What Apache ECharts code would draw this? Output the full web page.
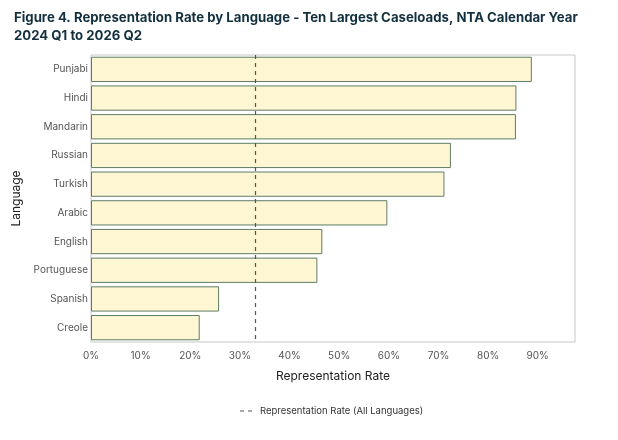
<!DOCTYPE html>
<html><head><meta charset="utf-8">
<script src="https://cdn.jsdelivr.net/npm/echarts@6/dist/echarts.min.js"></script>
<style>html,body{margin:0;padding:0;background:#fff}#c{width:618px;height:440px}</style>
</head><body><div id="c"></div>
<script>
const categories = ["Punjabi","Hindi","Mandarin","Russian","Turkish","Arabic","English","Portuguese","Spanish","Creole"];
const rates = [88.8, 85.7, 85.6, 72.5, 71.2, 59.7, 46.6, 45.6, 25.8, 21.9];
const overallRate = 33.0;
const xTicks = [0,10,20,30,40,50,60,70,80,90];
const chart = echarts.init(document.getElementById('c'));
const FONT = 'Inter, "Noto Sans", sans-serif';
chart.setOption({
  animation: false,
  textStyle: {fontFamily: FONT},
  title: {
    text: 'Figure 4. Representation Rate by Language - Ten Largest Caseloads, NTA Calendar Year\n2024 Q1 to 2026 Q2',
    left: 9, top: 4,
    textStyle: {fontSize: 13.2, fontWeight: 'bold', color: '#13303f', lineHeight: 18, fontFamily: FONT}
  },
  grid: {left: 91, right: 43, top: 55, bottom: 98, show: true, borderColor: '#c8c8c8', borderWidth: 1},
  legend: {
    data: [{name: 'Representation Rate (All Languages)', icon: 'path://M0,5L4,5L4,6L0,6ZM8,5L12,5L12,6L8,6Z'}],
    bottom: 19, left: 235,
    itemWidth: 12, itemHeight: 6,
    textStyle: {fontSize: 9.5, color: '#333', fontFamily: FONT, padding: [0, 0, 0, 3]},
    itemStyle: {color: '#555'}
  },
  xAxis: {
    type: 'value', min: 0, max: 97.5, interval: 10,
    axisLine: {show: false}, axisTick: {show: false}, splitLine: {show: false},
    axisLabel: {formatter: v => xTicks.includes(v) ? v + '%' : '', color: '#555', fontSize: 10, margin: 9, showMaxLabel: false},
    name: 'Representation Rate', nameLocation: 'middle', nameGap: 28,
    nameTextStyle: {fontSize: 12, color: '#222'}
  },
  yAxis: {
    type: 'category', data: categories, inverse: true,
    axisLine: {show: false}, axisTick: {show: false},
    axisLabel: {color: '#555', fontSize: 10, margin: 3},
    name: 'Language', nameLocation: 'middle', nameGap: 63, nameRotate: 90,
    nameTextStyle: {fontSize: 12, color: '#222'}
  },
  series: [
    {
      type: 'bar', name: 'Rate', data: rates, barCategoryGap: '12%',
      itemStyle: {color: '#fff6d3', borderColor: '#5e7d66', borderWidth: 1},
      markLine: {
        silent: true, symbol: 'none', label: {show: false},
        lineStyle: {type: [4, 4], color: '#555', width: 1.2},
        data: [{xAxis: overallRate}]
      }
    },
    {
      type: 'line', name: 'Representation Rate (All Languages)', data: [], symbol: 'none',
      lineStyle: {type: 'dashed', color: '#555'}
    }
  ]
});
</script></body></html>
